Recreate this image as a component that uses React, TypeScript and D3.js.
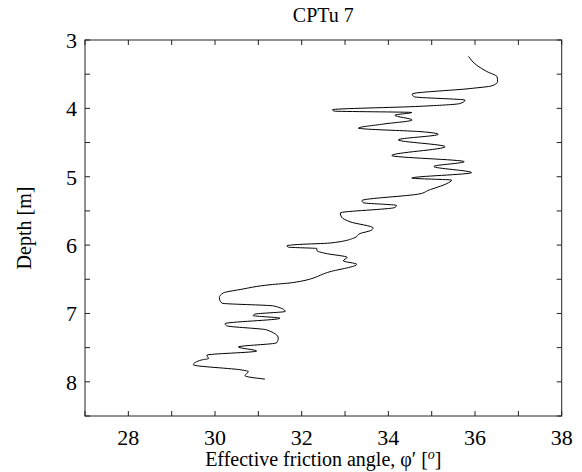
import React from "react";
import * as d3 from "d3";

const phi: number[] = [
  35.85, 36.04, 36.27, 36.51, 36.52, 36.39, 35.89, 34.55, 34.59, 35.77,
  35.65, 34.73, 32.71, 32.75, 34.54, 34.15, 34.55, 33.88, 33.31, 33.44,
  34.73, 35.15, 34.23, 35.31, 34.08, 35.75, 35.05, 35.92, 34.54, 35.46,
  35.35, 34.92, 34.73, 33.39, 33.42, 34.19, 34.15, 32.89, 32.92, 33.12,
  33.65, 33.58, 33.35, 33.23, 32.65, 31.96, 31.66, 31.69, 32.35, 32.35,
  32.54, 33.05, 32.96, 33.27, 32.65, 31.78, 31.27, 30.58, 30.19, 30.1,
  30.16, 31.35, 31.62, 30.92, 30.88, 31.5, 30.23, 30.27, 31.19, 31.46,
  31.42, 30.54, 30.96, 29.81, 29.85, 29.69, 29.5, 30.65, 30.77, 30.69,
  31.15,
];
const depth: number[] = [
  3.24, 3.37, 3.46, 3.54, 3.61, 3.67, 3.71, 3.79, 3.83, 3.88,
  3.93, 3.97, 4.02, 4.04, 4.06, 4.1, 4.17, 4.23, 4.29, 4.3,
  4.34, 4.38, 4.46, 4.56, 4.69, 4.78, 4.85, 4.94, 5.02, 5.05,
  5.1, 5.2, 5.25, 5.35, 5.38, 5.42, 5.45, 5.53, 5.59, 5.66,
  5.75, 5.79, 5.83, 5.89, 5.97, 5.99, 6.01, 6.03, 6.05, 6.08,
  6.12, 6.18, 6.23, 6.28, 6.39, 6.55, 6.58, 6.65, 6.7, 6.77,
  6.85, 6.89, 6.97, 7.01, 7.03, 7.07, 7.15, 7.18, 7.24, 7.36,
  7.43, 7.49, 7.55, 7.61, 7.66, 7.68, 7.75, 7.83, 7.85, 7.91,
  7.96,
];
const xTicks: number[] = [27, 28, 29, 30, 31, 32, 33, 34, 35, 36, 37, 38];
const xLabels: number[] = [28, 30, 32, 34, 36, 38];
const yTicks: number[] = [3, 3.5, 4, 4.5, 5, 5.5, 6, 6.5, 7, 7.5, 8, 8.5];
const yLabels: number[] = [3, 4, 5, 6, 7, 8];

const W = 582;
const H = 472;
const L = 85;
const R = 561.7;
const T = 40;
const B = 416;
const FONT = "'Liberation Serif', 'DejaVu Serif', serif";

export default function App() {
  const x = d3.scaleLinear().domain([27, 38]).range([L, R]);
  const y = d3.scaleLinear().domain([3, 8.5]).range([T, B]);
  const pts = phi.map((p, i) => [p, depth[i]] as [number, number]);
  const line = d3
    .line<[number, number]>()
    .x((d) => x(d[0]))
    .y((d) => y(d[1]))
    .curve(d3.curveMonotoneY);
  const tl = 5;
  return (
    <svg
      width={W}
      height={H}
      style={{ position: "absolute", left: 0, top: 0, background: "#fff" }}
      fontFamily={FONT}
    >
      <rect x={0} y={0} width={W} height={H} fill="#fff" />
      <path d={line(pts) || ""} fill="none" stroke="#000" strokeWidth={1} />
      {xTicks.map((t) => (
        <g key={"xt" + t} stroke="#222" strokeWidth={1}>
          <line x1={x(t)} x2={x(t)} y1={B} y2={B - tl} />
          <line x1={x(t)} x2={x(t)} y1={T} y2={T + tl} />
        </g>
      ))}
      {yTicks.map((t) => (
        <g key={"yt" + t} stroke="#222" strokeWidth={1}>
          <line x1={L} x2={L + tl} y1={y(t)} y2={y(t)} />
          <line x1={R} x2={R - tl} y1={y(t)} y2={y(t)} />
        </g>
      ))}
      <rect x={L} y={T} width={R - L} height={B - T} fill="none" stroke="#222" strokeWidth={1} />
      {xLabels.map((t) => (
        <text key={"xl" + t} x={x(t)} y={445} textAnchor="middle" fontSize={22} fill="#000">
          {t}
        </text>
      ))}
      {yLabels.map((t) => (
        <text key={"yl" + t} x={77} y={y(t) + 8} textAnchor="end" fontSize={22} fill="#000">
          {t}
        </text>
      ))}
      <text x={(L + R) / 2} y={22} textAnchor="middle" fontSize={20} fill="#000">
        CPTu 7
      </text>
      <text x={(L + R) / 2} y={466} textAnchor="middle" fontSize={20} fill="#000">
        Effective friction angle, φ′ [
        <tspan fontStyle="italic" fontSize={14} dy={-7}>o</tspan>
        <tspan dy={7}>]</tspan>
      </text>
      <text
        transform={`translate(31, ${(T + B) / 2}) rotate(-90)`}
        textAnchor="middle"
        fontSize={20}
        fill="#000"
      >
        Depth [m]
      </text>
    </svg>
  );
}
